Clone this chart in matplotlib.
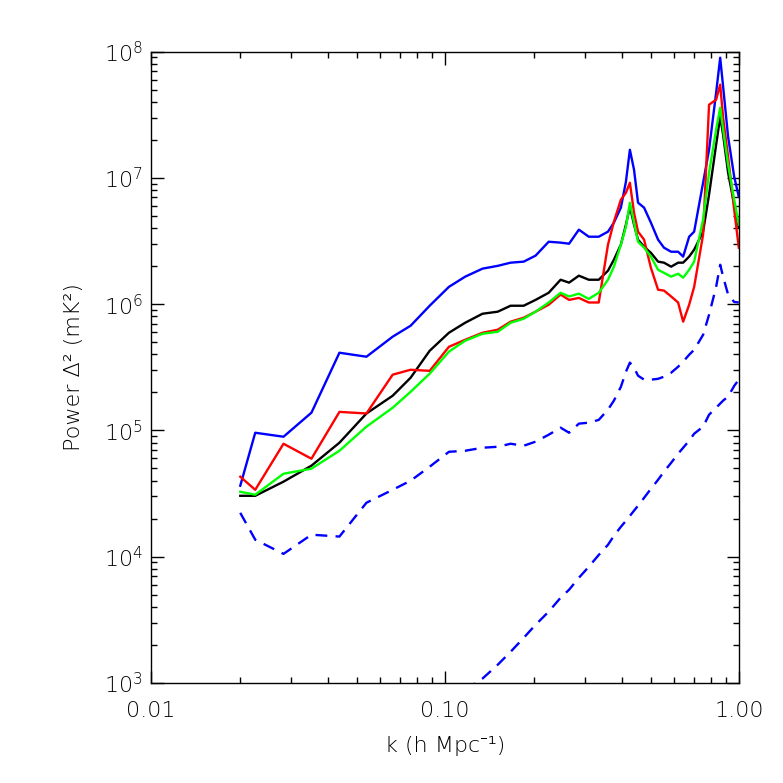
import matplotlib
matplotlib.use("Agg")
import matplotlib.pyplot as plt
from matplotlib.ticker import FixedLocator, FixedFormatter, LogLocator, NullFormatter

# k bins (h/Mpc), shared by every curve
k = [0.0201, 0.0226, 0.0282, 0.0351, 0.0437, 0.0540, 0.0663, 0.0763, 0.0886, 0.103,
     0.117, 0.134, 0.151, 0.167, 0.185, 0.203, 0.225, 0.247, 0.264, 0.285,
     0.308, 0.333, 0.358, 0.375, 0.396, 0.412, 0.425, 0.439, 0.453, 0.475,
     0.501, 0.530, 0.555, 0.587, 0.620, 0.645, 0.676, 0.703, 0.754, 0.790,
     0.835, 0.862, 0.882, 0.917, 0.962, 0.997]

# power in mK^2
p_black = [3.03e4, 3.03e4, 3.92e4, 5.25e4, 7.98e4, 1.36e5, 1.88e5, 2.61e5, 4.27e5, 5.93e5,
           7.12e5, 8.39e5, 8.71e5, 9.71e5, 9.71e5, 1.08e6, 1.23e6, 1.56e6, 1.48e6, 1.68e6,
           1.56e6, 1.56e6, 1.84e6, 2.25e6, 2.96e6, 4.26e6, 5.91e6, 4.26e6, 3.24e6, 2.85e6,
           2.55e6, 2.17e6, 2.13e6, 1.98e6, 2.13e6, 2.13e6, 2.38e6, 2.70e6, 3.75e6, 7.36e6,
           1.83e7, 3.05e7, 2.20e7, 1.10e7, 6.13e6, 4.03e6]

p_green = [3.26e4, 3.09e4, 4.53e4, 4.97e4, 6.89e4, 1.07e5, 1.51e5, 2.02e5, 2.81e5, 4.20e5,
           5.13e5, 5.82e5, 6.04e5, 7.12e5, 7.66e5, 8.71e5, 1.03e6, 1.23e6, 1.15e6, 1.21e6,
           1.10e6, 1.23e6, 1.56e6, 1.98e6, 2.96e6, 4.10e6, 6.36e6, 4.42e6, 3.12e6, 2.80e6,
           2.38e6, 1.87e6, 1.77e6, 1.65e6, 1.74e6, 1.62e6, 1.87e6, 2.17e6, 4.67e6, 1.10e7,
           2.41e7, 3.60e7, 2.41e7, 1.27e7, 6.71e6, 4.26e6]

p_red = [4.29e4, 3.38e4, 7.83e4, 5.96e4, 1.40e5, 1.36e5, 2.76e5, 3.02e5, 2.96e5, 4.59e5,
         5.22e5, 5.93e5, 6.27e5, 7.26e5, 7.80e5, 8.71e5, 9.89e5, 1.19e6, 1.08e6, 1.12e6,
         1.03e6, 1.03e6, 2.96e6, 4.50e6, 6.71e6, 7.63e6, 9.16e6, 5.30e6, 3.75e6, 3.24e6,
         1.94e6, 1.30e6, 1.28e6, 1.15e6, 1.03e6, 7.26e5, 9.89e5, 1.37e6, 3.55e6, 3.80e7,
         4.17e7, 5.48e7, 3.00e7, 1.47e7, 5.60e6, 2.80e6]

p_blue = [3.64e4, 9.57e4, 8.90e4, 1.38e5, 4.12e5, 3.83e5, 5.52e5, 6.74e5, 9.71e5, 1.37e6,
          1.65e6, 1.91e6, 2.01e6, 2.13e6, 2.17e6, 2.42e6, 3.12e6, 3.07e6, 3.01e6, 3.89e6,
          3.42e6, 3.42e6, 3.75e6, 4.42e6, 5.81e6, 9.33e6, 1.67e7, 1.16e7, 6.36e6, 5.81e6,
          4.42e6, 3.24e6, 2.80e6, 2.60e6, 2.60e6, 2.38e6, 3.42e6, 3.75e6, 9.16e6, 1.67e7,
          4.73e7, 8.96e7, 5.28e7, 2.12e7, 1.02e7, 7.10e6]

p_blue_dash = [2.22e4, 1.36e4, 1.05e4, 1.49e4, 1.44e4, 2.67e4, 3.38e4, 3.99e4, 5.15e4, 6.76e4,
               6.89e4, 7.28e4, 7.41e4, 7.83e4, 7.55e4, 8.13e4, 9.23e4, 1.05e5, 9.57e4, 1.13e5,
               1.15e5, 1.21e5, 1.46e5, 1.72e5, 2.21e5, 2.91e5, 3.44e5, 3.13e5, 2.71e5, 2.52e5,
               2.52e5, 2.56e5, 2.66e5, 2.86e5, 3.19e5, 3.50e5, 3.97e5, 4.35e5, 5.71e5, 8.24e5,
               1.37e6, 2.05e6, 1.65e6, 1.19e6, 1.04e6, 1.03e6]

# lower dashed curve, starts at the 11th k bin
p_noise = [8.81e2, 1.08e3, 1.39e3, 1.76e3, 2.27e3, 2.88e3, 3.66e3, 4.72e3, 5.46e3, 6.79e3,
           8.30e3, 1.03e4, 1.24e4, 1.46e4, 1.72e4, 1.92e4, 2.10e4, 2.31e4, 2.53e4, 2.92e4,
           3.44e4, 4.06e4, 4.70e4, 5.53e4, 6.53e4, 7.28e4, 8.28e4, 9.40e4, 1.07e5, 1.33e5,
           1.51e5, 1.63e5, 1.72e5, 1.85e5, 2.25e5, 2.52e5]

plt.rcParams['font.family'] = ['DejaVu Sans', 'Noto Sans', 'Lato']
plt.rcParams['font.weight'] = 'light'
plt.rcParams['mathtext.fontset'] = 'dejavusans'

fig = plt.figure(figsize=(7.83, 7.83), dpi=100)
ax = fig.add_axes([0.193, 0.128, 0.751, 0.806])

lw = 1.7
ax.plot(k, p_blue_dash, color='#0000ff', lw=lw, dashes=(5, 3.5))
ax.plot(k[10:], p_noise, color='#0000ff', lw=lw, dashes=(5, 3.5))
ax.plot(k, p_black, color='black', lw=lw)
ax.plot(k, p_blue, color='#0000ff', lw=lw)
ax.plot(k, p_red, color='#ff0000', lw=lw)
ax.plot(k, p_green, color='#00ff00', lw=lw)

ax.set_xscale('log')
ax.set_yscale('log')
ax.set_xlim(0.01, 1.0)
ax.set_ylim(1e3, 1e8)

ax.xaxis.set_major_locator(FixedLocator([0.01, 0.1, 1.0]))
ax.xaxis.set_major_formatter(FixedFormatter(['0.01', '0.10', '1.00']))
ax.xaxis.set_minor_locator(LogLocator(base=10, subs=range(2, 10)))
ax.xaxis.set_minor_formatter(NullFormatter())
ax.yaxis.set_minor_locator(LogLocator(base=10, subs=range(2, 10), numticks=20))
ax.yaxis.set_minor_formatter(NullFormatter())

ax.tick_params(which='both', direction='in', top=True, right=True, width=1.0, color='black')
ax.tick_params(which='major', length=9, labelsize=16)
ax.tick_params(which='minor', length=4.5)
ax.tick_params(axis='x', which='major', pad=13)
ax.tick_params(axis='y', which='major', pad=6)
for s in ax.spines.values():
    s.set_linewidth(1.0)

# plain unicode superscripts so the thin weight holds for the labels
ax.set_xlabel('k (h Mpc\u207b\u00b9)', fontsize=16, fontweight='light', labelpad=11)
ax.set_ylabel('Power \u0394\u00b2 (mK\u00b2)', fontsize=16, fontweight='light', labelpad=14)

fig.savefig('out.png', dpi=100, facecolor='white')
